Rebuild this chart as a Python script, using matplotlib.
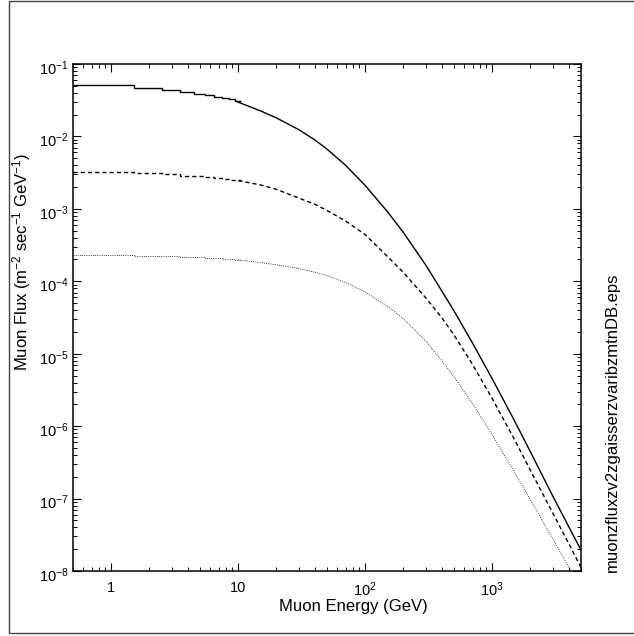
import numpy as np
import matplotlib
matplotlib.use('Agg')
import matplotlib.pyplot as plt
import matplotlib.transforms as mtransforms
from matplotlib.ticker import LogLocator, NullFormatter
from matplotlib.patches import Rectangle

plt.rcParams['font.family'] = ['Liberation Sans', 'DejaVu Sans']
plt.rcParams['mathtext.fontset'] = 'custom'
plt.rcParams['mathtext.rm'] = 'Liberation Sans'
plt.rcParams['mathtext.it'] = 'Liberation Sans:italic'
plt.rcParams['mathtext.bf'] = 'Liberation Sans:bold'
plt.rcParams['mathtext.default'] = 'regular'

# low energy part: 1 GeV bins (bin centres), drawn as steps
bin_energy = np.array([1, 2, 3, 4, 5, 6, 7, 8, 9, 10])
bin_solid = [0.0505, 0.0470, 0.0441, 0.0412, 0.0389, 0.0372, 0.0355, 0.0339, 0.0324, 0.0309]
bin_dashed = [3.2e-3, 3.09e-3, 2.99e-3, 2.88e-3, 2.82e-3, 2.72e-3, 2.66e-3, 2.60e-3, 2.54e-3, 2.48e-3]
bin_dotted = [2.27e-4, 2.24e-4, 2.21e-4, 2.18e-4, 2.15e-4, 2.12e-4, 2.08e-4, 2.05e-4, 2.02e-4, 1.99e-4]

# higher energies
energy = [10, 15, 20, 30, 40, 50, 70, 100, 150, 200, 300, 400, 500, 700,
          1000, 1500, 2000, 3000, 4000, 5000]
flux_solid = [0.0297, 0.0225, 0.0180, 0.0124, 8.97e-3, 6.68e-3, 4.0e-3, 2.1e-3, 9.1e-4, 4.7e-4,
              1.67e-4, 7.4e-5, 3.9e-5, 1.40e-5, 4.5e-6, 1.18e-6, 4.4e-7, 1.08e-7, 4.1e-8, 1.95e-8]
flux_dashed = [2.45e-3, 2.14e-3, 1.86e-3, 1.41e-3, 1.16e-3, 9.5e-4, 6.8e-4, 4.4e-4, 2.19e-4, 1.32e-4,
               5.9e-5, 3.16e-5, 1.82e-5, 7.1e-6, 2.4e-6, 6.5e-7, 2.45e-7, 6.3e-8, 2.4e-8, 1.12e-8]
flux_dotted = [1.97e-4, 1.81e-4, 1.69e-4, 1.50e-4, 1.34e-4, 1.20e-4, 9.6e-5, 7.1e-5, 4.51e-5, 3.03e-5,
               1.49e-5, 8.1e-6, 4.8e-6, 2.05e-6, 7.6e-7, 2.30e-7, 9.6e-8, 2.77e-8, 1.14e-8, 5.7e-9]

x_ticks = [1, 10, 100, 1000]
x_labels = ['1', '10', '$10^{2}$', '$10^{3}$']
y_ticks = [1e-8, 1e-7, 1e-6, 1e-5, 1e-4, 1e-3, 1e-2, 1e-1]
y_labels = ['$10^{-%d}$' % i for i in range(8, 0, -1)]

W, H = 634, 636
fig = plt.figure( figsize=(W / 100, H / 100), dpi=100 )
ax = fig.add_axes( [73 / W, 1 - 571 / H, 508 / W, 507 / H] )

edges = np.append( bin_energy - 0.5, bin_energy[-1] + 0.5 )
styles = [
    ( bin_solid, flux_solid, dict( color='black', lw=1.0, linestyle='-' ) ),
    ( bin_dashed, flux_dashed, dict( color='black', lw=1.0, linestyle=(0, (3, 2.2)) ) ),
    ( bin_dotted, flux_dotted, dict( color='black', lw=0.6, linestyle=(0, (1, 1.6)) ) ),
]
for bins, flux, st in styles:
    ax.stairs( bins, edges, baseline=None, **st )
    ax.plot( energy, flux, **st )

ax.set_xscale( 'log' )
ax.set_yscale( 'log' )
ax.set_xlim( 0.5, 5000 )
ax.set_ylim( 1e-8, 1e-1 )

ax.set_xticks( x_ticks, labels=x_labels )
ax.set_yticks( y_ticks, labels=y_labels )
for axis in ( ax.xaxis, ax.yaxis ):
    axis.set_minor_locator( LogLocator( base=10, subs=np.arange(2, 10), numticks=100 ) )
    axis.set_minor_formatter( NullFormatter() )

ax.tick_params( which='both', direction='in', top=True, right=True, colors='black', labelsize=10.5 )
ax.tick_params( which='major', length=6, width=0.8 )
ax.tick_params( which='minor', length=3, width=0.7 )
ax.tick_params( axis='x', pad=7 )
ax.tick_params( axis='y', pad=3 )
for s in ax.spines.values():
    s.set_linewidth( 1.1 )

# y tick labels sit a little below their ticks in the original
shift = mtransforms.ScaledTranslation( 0, -3 / 100, fig.dpi_scale_trans )
for lab in ax.get_yticklabels():
    lab.set_transform( lab.get_transform() + shift )

fig.text( 353 / W, 1 - 607 / H, 'Muon Energy (GeV)', ha='center', va='center', fontsize=12 )
fig.text( 22 / W, 1 - 262 / H, 'Muon Flux (m$^{-2}$ sec$^{-1}$ GeV$^{-1}$)',
          rotation=90, ha='center', va='center', fontsize=12 )
fig.text( 612 / W, 1 - 572 / H, 'muonzfluxzv2zgaisserzvaribzmtnDB.eps',
          rotation=90, ha='center', va='bottom', fontsize=12 )

# outer frame
fig.patches.append( Rectangle( (9 / W, 1 - 633 / H), 640 / W, 632 / H, transform=fig.transFigure,
                               fill=False, edgecolor='#444444', lw=1.0 ) )

fig.savefig( 'out.png', dpi=100 )
